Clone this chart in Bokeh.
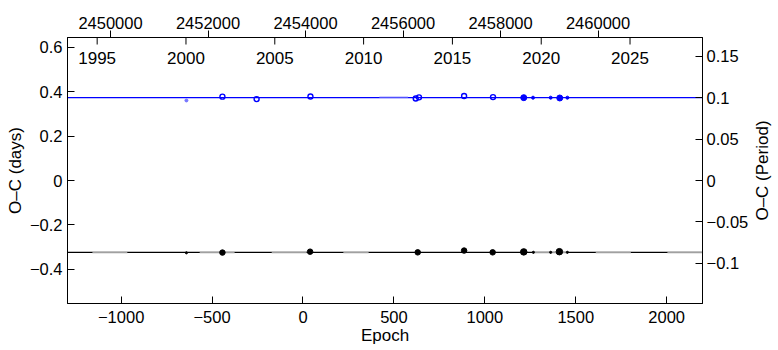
import math
from bokeh.plotting import figure
from bokeh.layouts import row
from bokeh.models import Range1d, LinearAxis, FixedTicker, CustomJSTickFormatter
from bokeh.core.properties import value
from bokeh.embed import file_html
from bokeh.resources import INLINE

# ---------------- data ----------------
# upper (blue) series, O-C in days
blue_open_epoch = [-443, -255, 41, 620, 638, 886, 1045]
blue_open_oc = [0.377, 0.366, 0.378, 0.369, 0.374, 0.380, 0.375]
blue_big_epoch = [1214, 1412]
blue_big_oc = [0.3725, 0.371]
blue_small_epoch = [1265, 1362, 1454]
blue_small_oc = [0.3725, 0.3725, 0.3725]
blue_faint_epoch = [-641]
blue_faint_oc = [0.360]

# lower (black) series, O-C in days
black_epoch = [-443, 39, 631, 886, 1043]
black_oc = [-0.324, -0.320, -0.323, -0.315, -0.323]
black_big_epoch = [1214, 1410]
black_big_oc = [-0.321, -0.320]
black_small_epoch = [-641, 1267, 1362, 1454]
black_small_oc = [-0.325, -0.323, -0.323, -0.323]

# fitted lines
fit_epoch = [-1400, 2300]
fit_blue = [0.3725, 0.3725]
fit_black = [-0.323, -0.323]

# faint segments drawn along the fits
gray_start = [-1158, -568, -172, 222, 1262, 1610, 2004]
gray_end = [-966, -376, 20, 361, 1454, 1803, 2197]
gray_oc = [-0.3245] * 7
lightblue_start = [420]
lightblue_end = [578]
lightblue_oc = [0.3755]

# ticks
epoch_ticks = [-1000, -500, 0, 500, 1000, 1500, 2000]
days_ticks = [-0.4, -0.2, 0, 0.2, 0.4, 0.6]
period_ticks = [-0.1, -0.05, 0, 0.05, 0.1, 0.15]
jd_ticks = [2450000, 2452000, 2454000, 2456000, 2458000, 2460000]
year_ticks = [1995, 2000, 2005, 2010, 2015, 2020, 2025]

right_title = "O–C (Period)"

# ---------------- ranges ----------------
X0, X1 = -1295, 2197
Y0, Y1 = -0.553, 0.643
PERIOD = 3.7207

FONT = "Liberation Sans"
TICK_FS = "16.5px"
LABEL_FS = "17px"

W, H = 778, 350
SIDE_W = 26                      # narrow strip holding the right-hand title
BL, BR, BT, BB = 67, 76 - SIDE_W, 37, 47

yrange = Range1d(Y0, Y1)
p = figure(width=W - SIDE_W, height=H,
           x_range=Range1d(X0, X1), y_range=yrange,
           output_backend="svg", toolbar_location=None,
           min_border_left=BL, min_border_right=BR,
           min_border_top=BT, min_border_bottom=BB,
           x_axis_label="Epoch", y_axis_label="O–C (days)")
p.extra_x_ranges = {"jd": Range1d(2449118, 2462142),
                    "year": Range1d(1993.33, 2029.08)}
p.extra_y_ranges = {"period": Range1d(Y0 / PERIOD, Y1 / PERIOD)}

p.xgrid.visible = False
p.ygrid.visible = False
p.outline_line_color = "black"
p.outline_line_alpha = 1
p.outline_line_width = 1
p.background_fill_color = "white"
p.border_fill_color = "white"

minus_fmt = CustomJSTickFormatter(
    code="return (tick < 0 ? '\\u2212' : '') + Math.abs(tick).toString();")
int_fmt = CustomJSTickFormatter(
    code="return (tick < 0 ? '\\u2212' : '') + Math.abs(Math.round(tick)).toFixed(0);")


def style(ax, ticks, fmt, tick_in, tick_out, standoff):
    ax.ticker = FixedTicker(ticks=ticks)
    ax.formatter = fmt
    ax.minor_tick_line_color = None
    ax.major_tick_in = tick_in
    ax.major_tick_out = tick_out
    ax.major_tick_line_color = "black"
    ax.major_tick_line_width = 1
    ax.axis_line_color = "black"
    ax.axis_line_width = 1
    ax.major_label_text_font = FONT
    ax.major_label_text_font_size = TICK_FS
    ax.major_label_text_color = "black"
    ax.major_label_standoff = standoff
    ax.axis_label_text_font = FONT
    ax.axis_label_text_font_size = LABEL_FS
    ax.axis_label_text_font_style = "normal"
    ax.axis_label_text_color = "black"


xb = p.xaxis[0]
style(xb, epoch_ticks, int_fmt, 7, 0, 7)
xb.axis_label_standoff = 0

yl = p.yaxis[0]
style(yl, days_ticks, minus_fmt, 7, 0, 5)
yl.axis_label_standoff = 2

yr = LinearAxis(y_range_name="period")
style(yr, period_ticks, minus_fmt, 7, 0, 4)
p.add_layout(yr, "right")

xt = LinearAxis(x_range_name="jd")
style(xt, jd_ticks, int_fmt, 0, 7, 2)
p.add_layout(xt, "above")

# year axis drawn inside the frame, from the year tick list
frame_h = H - BT - BB
px_per_unit = frame_h / (Y1 - Y0)
tick_len = 7 / px_per_unit
p.segment(x0=year_ticks, y0=[Y1] * len(year_ticks),
          x1=year_ticks, y1=[Y1 - tick_len] * len(year_ticks),
          x_range_name="year", line_color="black", line_width=1)
p.text(x=year_ticks, y=[Y1 - 20.5 / px_per_unit] * len(year_ticks),
       text=[str(y) for y in year_ticks], x_range_name="year",
       text_font=value(FONT), text_font_size="17px", text_color="black",
       text_align="center", text_baseline="alphabetic")

# fit lines
p.line(fit_epoch, fit_black, line_color="black", line_width=1.2)
p.line(fit_epoch, fit_blue, line_color="#0000ff", line_width=1.2)
p.segment(x0=gray_start, y0=gray_oc, x1=gray_end, y1=gray_oc,
          line_color="#a0a0a0", line_width=1.2)
p.segment(x0=lightblue_start, y0=lightblue_oc, x1=lightblue_end, y1=lightblue_oc,
          line_color="#a0a0ff", line_width=1.2)

# blue points
p.scatter(blue_faint_epoch, blue_faint_oc, size=3, marker="circle",
          fill_color="#7777ff", line_color="#7777ff")
p.scatter(blue_open_epoch, blue_open_oc, size=5, marker="circle",
          fill_color="white", fill_alpha=0, line_color="#0000ff", line_width=1.4)
p.scatter(blue_small_epoch, blue_small_oc, size=3, marker="circle",
          fill_color="#0000ff", line_color="#0000ff")
p.scatter(blue_big_epoch, blue_big_oc, size=6, marker="circle",
          fill_color="#0000ff", line_color="#0000ff")

# black points
p.scatter(black_small_epoch, black_small_oc, size=2.2, marker="circle",
          fill_color="black", line_color="black")
p.scatter(black_epoch, black_oc, size=5.5, marker="circle",
          fill_color="black", line_color="black")
p.scatter(black_big_epoch, black_big_oc, size=6.5, marker="circle",
          fill_color="black", line_color="black")

# ---- narrow strip on the right carrying the right-axis title (bottom-to-top) ----
side = figure(width=SIDE_W, height=H, x_range=Range1d(0, 1), y_range=yrange,
              output_backend="svg", toolbar_location=None,
              x_axis_location=None, y_axis_location=None,
              min_border_left=0, min_border_right=0,
              min_border_top=BT, min_border_bottom=BB)
side.outline_line_color = None
side.xgrid.visible = False
side.ygrid.visible = False
side.background_fill_color = "white"
side.border_fill_color = "white"
title_centre_px = 9.7            # from the strip's left edge
side.text(x=[title_centre_px / SIDE_W], y=[(Y0 + Y1) / 2], text=[right_title],
          angle=math.pi / 2, text_align="center", text_baseline="middle",
          text_font=value(FONT), text_font_size=LABEL_FS, text_color="black")

layout = row(p, side, spacing=0)
open("out.html", "w", encoding="utf-8").write(file_html(layout, INLINE))
